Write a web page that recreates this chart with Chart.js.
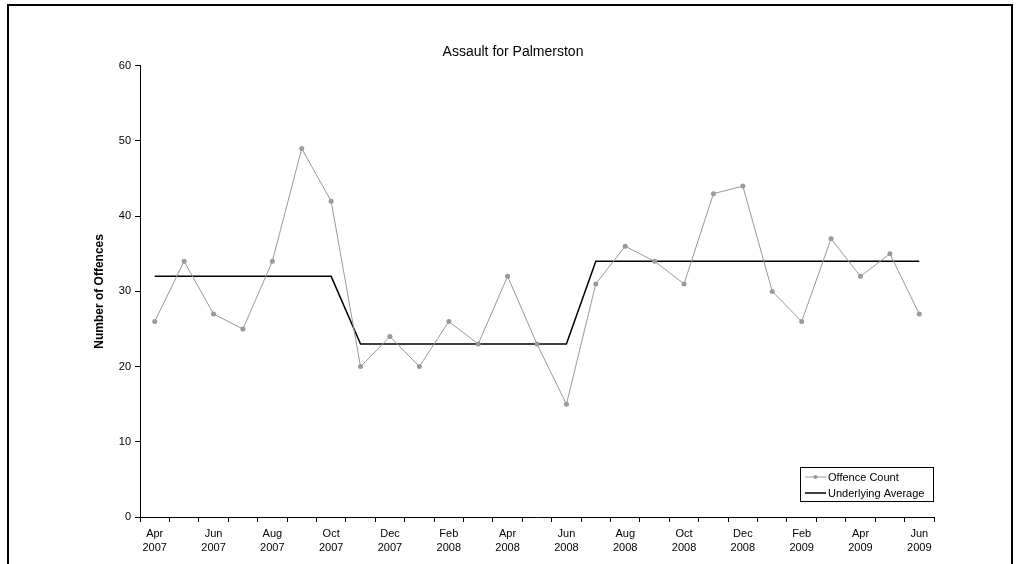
<!DOCTYPE html>
<html>
<head>
<meta charset="utf-8">
<script src="https://cdn.jsdelivr.net/npm/chart.js@4/dist/chart.umd.min.js"></script>
<style>
  body { margin: 0; background: #fff; }
  #wrap { position: relative; width: 1020px; height: 564px; overflow: hidden; }
  #frame {
    position: absolute; left: 7px; top: 4px; width: 1002px; height: 600px;
    border: 2px solid #000; pointer-events: none;
  }
</style>
</head>
<body>
<div id="wrap">
  <canvas id="assaultChart" width="1020" height="564"></canvas>
  <div id="frame"></div>
</div>
<script>
// Monthly categories, Apr 2007 - Jun 2009
const months = [
  "Apr 2007", "May 2007", "Jun 2007", "Jul 2007", "Aug 2007", "Sep 2007",
  "Oct 2007", "Nov 2007", "Dec 2007", "Jan 2008", "Feb 2008", "Mar 2008",
  "Apr 2008", "May 2008", "Jun 2008", "Jul 2008", "Aug 2008", "Sep 2008",
  "Oct 2008", "Nov 2008", "Dec 2008", "Jan 2009", "Feb 2009", "Mar 2009",
  "Apr 2009", "May 2009", "Jun 2009"
];

// Offence counts
const offenceCount = [
  26, 34, 27, 25, 34, 49, 42, 20, 24, 20, 26, 23, 32, 23, 15,
  31, 36, 34, 31, 43, 44, 30, 26, 37, 32, 35, 27
];

// Underlying average (step levels)
const underlyingAverage = [
  32, 32, 32, 32, 32, 32, 32,
  23, 23, 23, 23, 23, 23, 23, 23,
  34, 34, 34, 34, 34, 34, 34, 34, 34, 34, 34, 34
];

const yMin = 0;
const yMax = 60;
const yStep = 10;

const FONT = "'Liberation Sans', Arial, sans-serif";

// legend drawn inside the plot, bottom right, in a boxed frame
const boxLegend = {
  id: "boxLegend",
  afterDraw(chart) {
    const ctx = chart.ctx;
    const area = chart.chartArea;
    const w = 134, h = 35;
    const x = area.right - w;
    const y = area.bottom - 15 - h;
    ctx.save();
    ctx.fillStyle = "#fff";
    ctx.fillRect(x, y, w, h);
    ctx.strokeStyle = "#000";
    ctx.lineWidth = 1;
    ctx.strokeRect(x + 0.5, y + 0.5, w - 1, h - 1);
    ctx.font = "11px " + FONT;
    ctx.textBaseline = "middle";
    chart.data.datasets.forEach(function (ds, i) {
      const rowY = y + 10 + i * 16;
      ctx.strokeStyle = ds.borderColor;
      ctx.lineWidth = ds.borderWidth;
      ctx.beginPath();
      ctx.moveTo(x + 5, rowY);
      ctx.lineTo(x + 26, rowY);
      ctx.stroke();
      if (ds.pointRadius > 0) {
        ctx.fillStyle = ds.pointBackgroundColor;
        ctx.beginPath();
        ctx.arc(x + 15.5, rowY, 2, 0, Math.PI * 2);
        ctx.fill();
      }
      ctx.fillStyle = "#000";
      ctx.fillText(ds.label, x + 28, rowY + 1);
    });
    ctx.restore();
  }
};

const ctx = document.getElementById("assaultChart").getContext("2d");
const assaultChart = new Chart(ctx, {
  type: "line",
  data: {
    labels: months,
    datasets: [
      {
        label: "Offence Count",
        data: offenceCount,
        borderColor: "#999999",
        borderWidth: 1,
        pointRadius: 2.5,
        pointBackgroundColor: "#999999",
        pointBorderWidth: 0,
        tension: 0
      },
      {
        label: "Underlying Average",
        data: underlyingAverage,
        borderColor: "#000000",
        borderWidth: 1.5,
        pointRadius: 0,
        tension: 0
      }
    ]
  },
  options: {
    responsive: false,
    animation: false,
    layout: {
      padding: { left: 92, right: 86, top: 0, bottom: 0 }
    },
    plugins: {
      legend: { display: false },
      tooltip: { enabled: false },
      title: {
        display: true,
        text: "Assault for Palmerston",
        color: "#000",
        font: { family: FONT, size: 14, weight: "normal" },
        padding: { top: 44, bottom: 5 }
      }
    },
    scales: {
      x: {
        offset: true,
        grid: {
          offset: true,
          drawOnChartArea: false,
          drawTicks: true,
          tickLength: 5,
          color: "#000"
        },
        border: { color: "#000", width: 1 },
        ticks: {
          autoSkip: false,
          maxRotation: 0,
          minRotation: 0,
          padding: 5,
          color: "#000",
          font: { family: FONT, size: 11, lineHeight: 1.3 },
          callback: function (value, index) {
            if (index % 2 !== 0) return "";
            return months[index].split(" ");
          }
        },
        afterFit: function (scale) { scale.height = 47; }
      },
      y: {
        min: yMin,
        max: yMax,
        grid: {
          drawOnChartArea: false,
          drawTicks: true,
          tickLength: 5,
          color: "#000"
        },
        border: { color: "#000", width: 1 },
        ticks: {
          stepSize: yStep,
          padding: 4,
          color: "#000",
          font: { family: FONT, size: 11 }
        },
        title: {
          display: true,
          text: "Number of Offences",
          color: "#000",
          font: { family: FONT, size: 12, weight: "bold" },
          padding: 0
        },
        afterFit: function (scale) { scale.width = 48; }
      }
    }
  },
  plugins: [boxLegend]
});
</script>
</body>
</html>
